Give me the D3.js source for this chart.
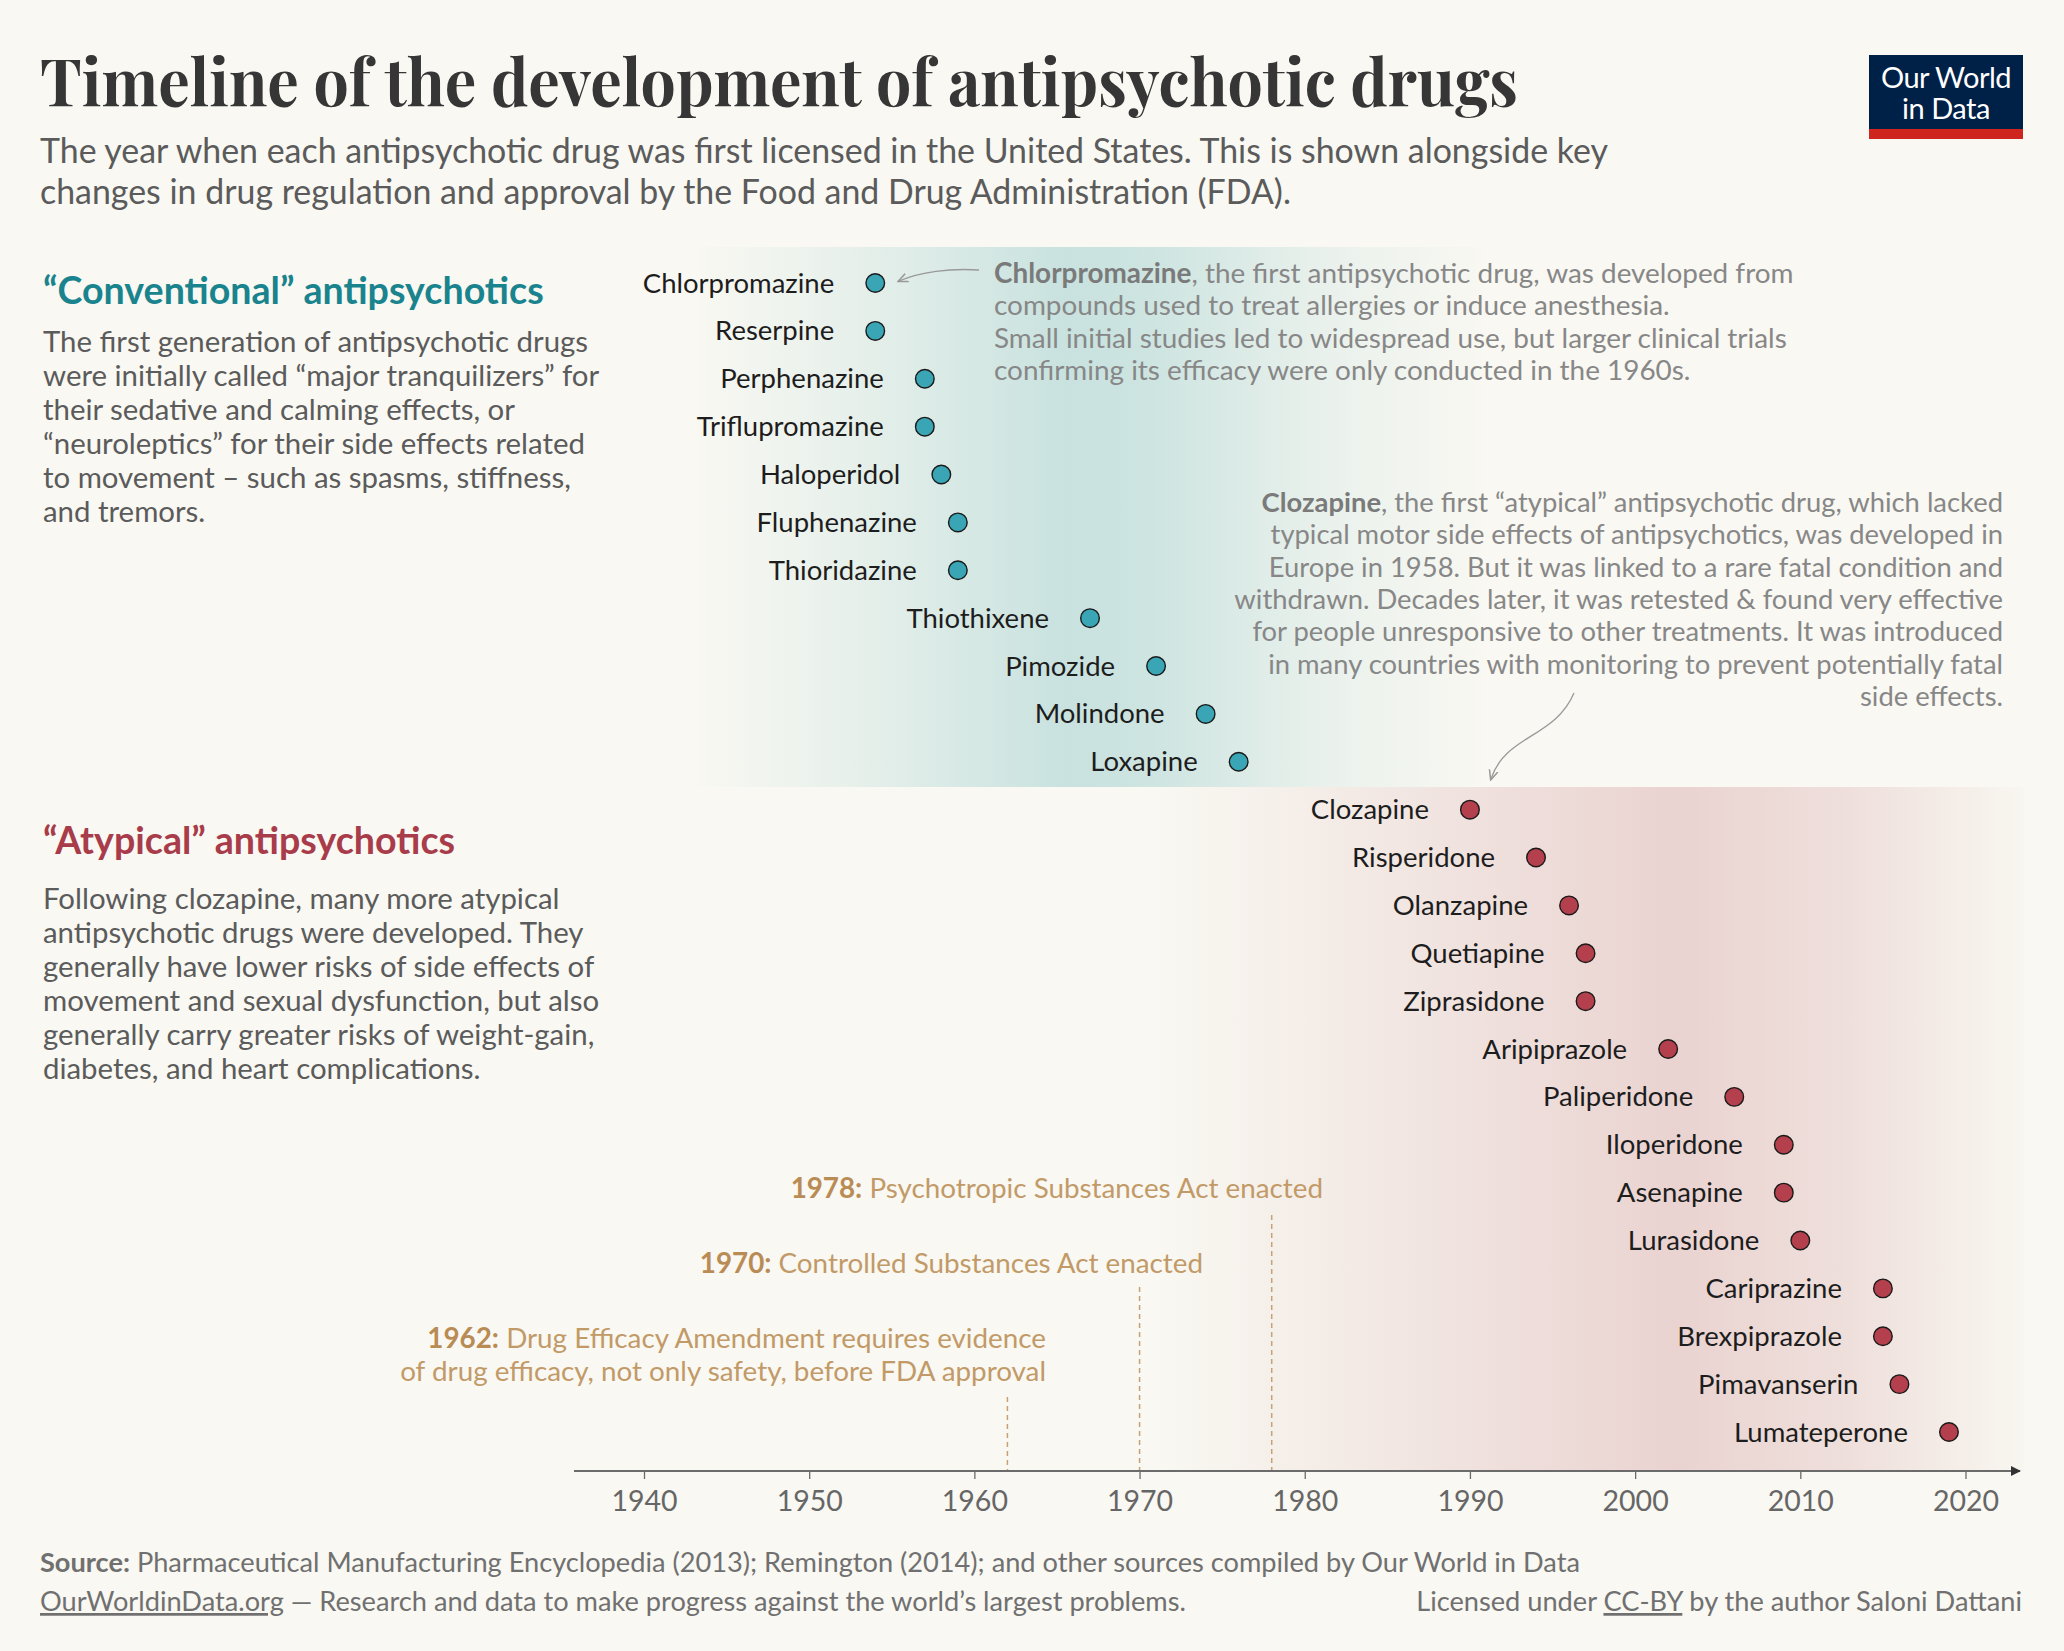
<!DOCTYPE html>
<html>
<head>
<meta charset="utf-8">
<script src="https://cdn.jsdelivr.net/npm/d3@7"></script>
<style>
  body { margin: 0; background: #f9f8f2; }
  svg { display: block; }
  text { font-family: Lato, "Noto Sans", sans-serif; }
</style>
</head>
<body>
<div id="chart"></div>
<script>
// drugs in the order they are listed, with year first licensed in the US
var conventionalDrugs = ["Chlorpromazine", "Reserpine", "Perphenazine", "Triflupromazine", "Haloperidol",
  "Fluphenazine", "Thioridazine", "Thiothixene", "Pimozide", "Molindone", "Loxapine"];
var conventionalYears = [1954, 1954, 1957, 1957, 1958, 1959, 1959, 1967, 1971, 1974, 1976];

var atypicalDrugs = ["Clozapine", "Risperidone", "Olanzapine", "Quetiapine", "Ziprasidone", "Aripiprazole",
  "Paliperidone", "Iloperidone", "Asenapine", "Lurasidone", "Cariprazine", "Brexpiprazole",
  "Pimavanserin", "Lumateperone"];
var atypicalYears = [1990, 1994, 1996, 1997, 1997, 2002, 2006, 2009, 2009, 2010, 2015, 2015, 2016, 2019];

// FDA regulation events
var eventYears = [1962, 1970, 1978];
var eventBold = ["1962:", "1970:", "1978:"];
var eventText = [
  [" Drug Efficacy Amendment requires evidence", "of drug efficacy, not only safety, before FDA approval"],
  [" Controlled Substances Act enacted"],
  [" Psychotropic Substances Act enacted"]
];

var tickYears = [1940, 1950, 1960, 1970, 1980, 1990, 2000, 2010, 2020];

var width = 2064,
    height = 1651;

var svg = d3.select("#chart")
  .append("svg")
    .attr("width", width)
    .attr("height", height);

svg.append("rect").attr("width", width).attr("height", height).attr("fill", "#f9f8f2");

var x = d3.scaleLinear().domain([1940, 2020]).range([644, 1965.5]);

var allDrugs = conventionalDrugs.concat(atypicalDrugs);
var y = d3.scalePoint().domain(allDrugs).range([283, 1432]);

var conventional = conventionalDrugs.map((d, i) => ({name: d, year: conventionalYears[i], group: "c"}));
var atypical = atypicalDrugs.map((d, i) => ({name: d, year: atypicalYears[i], group: "a"}));

// background bands
var defs = svg.append("defs");
function band(id, color, x0, x1, stops) {
  var g = defs.append("linearGradient")
    .attr("id", id)
    .attr("gradientUnits", "userSpaceOnUse")
    .attr("x1", x0).attr("x2", x1).attr("y1", 0).attr("y2", 0);
  stops.forEach(s => g.append("stop").attr("offset", s[0]).attr("stop-color", color).attr("stop-opacity", s[1]));
}
band("tealBand", "#c6e1de", x(1943), x(1991), [[0, 0], [0.2, 0.35], [0.47, 0.95], [0.58, 0.85], [0.8, 0.3], [1, 0]]);
band("pinkBand", "#e8cfcd", x(1971), x(2023.5), [[0, 0], [0.3, 0.45], [0.6, 0.9], [0.8, 0.6], [1, 0.05]]);

svg.append("rect")
  .attr("x", x(1943)).attr("width", x(1991) - x(1943))
  .attr("y", 247).attr("height", 540)
  .attr("fill", "url(#tealBand)");
svg.append("rect")
  .attr("x", x(1971)).attr("width", x(2023.5) - x(1971))
  .attr("y", 787).attr("height", 1471 - 787)
  .attr("fill", "url(#pinkBand)");

// title and subtitle
svg.append("text")
  .attr("x", 40).attr("y", 106)
  .style("font-family", "'Playfair Display', 'Liberation Serif', serif")
  .style("font-weight", 700)
  .style("font-size", "66px")
  .attr("fill", "#363636")
  .attr("textLength", 1478)
  .attr("lengthAdjust", "spacingAndGlyphs")
  .text("Timeline of the development of antipsychotic drugs");

svg.append("g")
  .selectAll("text")
  .data(["The year when each antipsychotic drug was first licensed in the United States. This is shown alongside key",
         "changes in drug regulation and approval by the Food and Drug Administration (FDA)."])
  .join("text")
    .attr("x", 40)
    .attr("y", (d, i) => 163 + i * 41)
    .attr("fill", "#5b5b5b")
    .style("font-size", "33.9px")
    .text(d => d);

// logo
var logo = svg.append("g");
logo.append("rect").attr("x", 1869).attr("y", 55).attr("width", 154).attr("height", 84).attr("fill", "#002147");
logo.append("rect").attr("x", 1869).attr("y", 129).attr("width", 154).attr("height", 10).attr("fill", "#ce261e");
logo.selectAll("text.logo")
  .data(["Our World", "in Data"])
  .join("text")
    .attr("x", 1946)
    .attr("y", (d, i) => 88 + i * 31)
    .attr("text-anchor", "middle")
    .attr("fill", "#ffffff")
    .style("font-size", "29px")
    .style("letter-spacing", "-0.5px")
    .text(d => d);

// left side descriptions
function block(title, color, lines, y0, y1) {
  svg.append("text")
    .attr("x", 43).attr("y", y0)
    .attr("fill", color)
    .style("font-size", "37.6px")
    .style("font-weight", 700)
    .text(title);
  svg.append("g").selectAll("text")
    .data(lines)
    .join("text")
      .attr("x", 43)
      .attr("y", (d, i) => y1 + i * 34)
      .attr("fill", "#5b5b5b")
      .style("font-size", "29.4px")
      .text(d => d);
}
block("\u201cConventional\u201d antipsychotics", "#19838e", [
  "The first generation of antipsychotic drugs",
  "were initially called \u201cmajor tranquilizers\u201d for",
  "their sedative and calming effects, or",
  "\u201cneuroleptics\u201d for their side effects related",
  "to movement \u2013 such as spasms, stiffness,",
  "and tremors."
], 304, 352);
block("\u201cAtypical\u201d antipsychotics", "#a83c4a", [
  "Following clozapine, many more atypical",
  "antipsychotic drugs were developed. They",
  "generally have lower risks of side effects of",
  "movement and sexual dysfunction, but also",
  "generally carry greater risks of weight-gain,",
  "diabetes, and heart complications."
], 854, 909);

// FDA events: dashed lines and labels
var axisY = 1471;
var eventTop = [1397, 1287, 1215];
var eventTextY = [1348, 1273, 1198];
var eventTextEnd = [1046, 1203, 1323];
var ev = svg.append("g");
eventYears.forEach(function(yr, i) {
  ev.append("line")
    .attr("x1", x(yr)).attr("x2", x(yr))
    .attr("y1", eventTop[i]).attr("y2", axisY)
    .attr("stroke", "#c9a173")
    .attr("stroke-width", 1.5)
    .attr("stroke-dasharray", "5,4");
  eventText[i].forEach(function(line, j) {
    var t = ev.append("text")
      .attr("x", eventTextEnd[i])
      .attr("y", eventTextY[i] + j * 33)
      .attr("text-anchor", "end")
      .attr("fill", "#c29a68")
      .style("font-size", "27.8px");
    if (j === 0) t.append("tspan").style("font-weight", 700).attr("fill", "#b98b55").text(eventBold[i]);
    t.append("tspan").text(line);
  });
});

// x axis
var axis = svg.append("g")
  .attr("transform", "translate(0," + axisY + ")")
  .call(d3.axisBottom(x).tickValues(tickYears).tickFormat(d3.format("d")).tickSize(8).tickPadding(12));
axis.select(".domain").remove();
axis.selectAll(".tick line").attr("stroke", "#6b6b6b").attr("stroke-width", 1.3);
axis.selectAll(".tick text")
  .attr("fill", "#666666")
  .style("font-family", "Lato, sans-serif")
  .style("font-size", "28.5px");

defs.append("marker")
  .attr("id", "axisArrow")
  .attr("viewBox", "0 0 10 10")
  .attr("refX", 9).attr("refY", 5)
  .attr("markerWidth", 10).attr("markerHeight", 10)
  .attr("markerUnits", "userSpaceOnUse")
  .attr("orient", "auto")
  .append("path").attr("d", "M0,0 L10,5 L0,10 z").attr("fill", "#333333");

svg.append("line")
  .attr("x1", 574).attr("x2", 2020)
  .attr("y1", axisY).attr("y2", axisY)
  .attr("stroke", "#6b6b6b")
  .attr("stroke-width", 2.2)
  .attr("marker-end", "url(#axisArrow)");

// annotation arrows
defs.append("marker")
  .attr("id", "noteArrow")
  .attr("viewBox", "0 0 10 10")
  .attr("refX", 8).attr("refY", 5)
  .attr("markerWidth", 11).attr("markerHeight", 11)
  .attr("markerUnits", "userSpaceOnUse")
  .attr("orient", "auto")
  .append("path").attr("d", "M0,1 L9,5 L0,9").attr("fill", "none").attr("stroke", "#999999").attr("stroke-width", 1.4);

svg.append("path")
  .attr("d", "M979,270 C950,268 920,272 899,281")
  .attr("fill", "none").attr("stroke", "#999999").attr("stroke-width", 1.3)
  .attr("marker-end", "url(#noteArrow)");
svg.append("path")
  .attr("d", "M1574,693 C1555,738 1505,735 1491,779")
  .attr("fill", "none").attr("stroke", "#999999").attr("stroke-width", 1.3)
  .attr("marker-end", "url(#noteArrow)");

// annotation texts
var chlorNote = [
  ["Chlorpromazine", ", the first antipsychotic drug, was developed from"],
  ["", "compounds used to treat allergies or induce anesthesia."],
  ["", "Small initial studies led to widespread use, but larger clinical trials"],
  ["", "confirming its efficacy were only conducted in the 1960s."]
];
var clozNote = [
  ["Clozapine", ", the first \u201catypical\u201d antipsychotic drug, which lacked"],
  ["", "typical motor side effects of antipsychotics, was developed in"],
  ["", "Europe in 1958. But it was linked to a rare fatal condition and"],
  ["", "withdrawn. Decades later, it was retested & found very effective"],
  ["", "for people unresponsive to other treatments. It was introduced"],
  ["", "in many countries with monitoring to prevent potentially fatal"],
  ["", "side effects."]
];
function note(lines, xPos, y0, anchor, size) {
  lines.forEach(function(l, i) {
    var t = svg.append("text")
      .attr("x", xPos).attr("y", y0 + i * 32.3)
      .attr("text-anchor", anchor)
      .attr("fill", "#878787")
      .style("font-size", size + "px");
    if (l[0]) t.append("tspan").style("font-weight", 700).attr("fill", "#7a7a7a").text(l[0]);
    t.append("tspan").text(l[1]);
  });
}
note(chlorNote, 994, 283, "start", 27.9);
note(clozNote, 2003, 512, "end", 27.4);

// drug points and labels
function drugs(data, fill) {
  var g = svg.append("g");
  g.selectAll("circle")
    .data(data)
    .join("circle")
      .attr("cx", d => x(d.year))
      .attr("cy", d => y(d.name))
      .attr("r", 9.3)
      .attr("fill", fill)
      .attr("stroke", "#1a1a1a")
      .attr("stroke-width", 1.4);
  g.selectAll("text")
    .data(data)
    .join("text")
      .attr("x", d => x(d.year) - 41)
      .attr("y", d => y(d.name) + 9.5)
      .attr("text-anchor", "end")
      .attr("fill", "#1d1d1d")
      .style("font-size", "27.5px")
      .text(d => d.name);
}
drugs(conventional, "#3aa5b5");
drugs(atypical, "#b3404c");

// footer
var f1 = svg.append("text").attr("x", 40).attr("y", 1572).attr("fill", "#707070").style("font-size", "27.2px");
f1.append("tspan").style("font-weight", 700).text("Source:");
f1.append("tspan").text(" Pharmaceutical Manufacturing Encyclopedia (2013); Remington (2014); and other sources compiled by Our World in Data");

var f2 = svg.append("text").attr("x", 40).attr("y", 1611).attr("fill", "#707070").style("font-size", "27.2px");
f2.append("tspan").style("text-decoration", "underline").text("OurWorldinData.org");
f2.append("tspan").text(" \u2014 Research and data to make progress against the world\u2019s largest problems.");

var f3 = svg.append("text").attr("x", 2022).attr("y", 1611).attr("text-anchor", "end").attr("fill", "#707070").style("font-size", "27.2px");
f3.append("tspan").text("Licensed under ");
f3.append("tspan").style("text-decoration", "underline").text("CC-BY");
f3.append("tspan").text(" by the author Saloni Dattani");
</script>
</body>
</html>
